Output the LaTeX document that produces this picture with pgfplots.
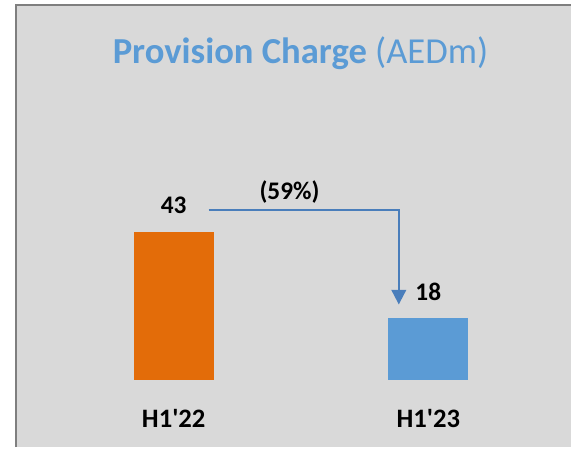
\documentclass[border=0pt]{standalone}
\usepackage{fontspec}
\setmainfont{Carlito}
\usepackage{pgfplots}
\pgfplotsset{compat=1.18}
\usetikzlibrary{arrows.meta}
\definecolor{bgfill}{HTML}{D9D9D9}
\definecolor{frame}{HTML}{7F7F7F}
\definecolor{barorange}{HTML}{E36C09}
\definecolor{barblue}{HTML}{5B9BD5}
\definecolor{arrowblue}{HTML}{4A7EBB}
\begin{document}
\begin{tikzpicture}
\path (0pt,0pt) rectangle (429pt,336pt);
\fill[bgfill] (12pt,0pt) rectangle (429pt,332.25pt);
\draw[frame, line width=1.5pt] (12.375pt,0pt) -- (12.375pt,331.875pt) -- (429pt,331.875pt);
\node[text=barblue, font=\fontsize{27.5}{32}\selectfont] at (225.75pt,296pt) {\textbf{Provision Charge} (AEDm)};
\begin{axis}[
  at={(34.875pt,50.25pt)}, anchor=south west,
  scale only axis, width=382.5pt, height=259.875pt,
  xmin=-0.5, xmax=1.5, ymin=0, ymax=100,
  axis line style={draw=none}, tick style={draw=none},
  ymajorticks=false,
  /pgf/number format/assume math mode=true,
  xtick={0,1}, xticklabels={H1\textquotesingle22,H1\textquotesingle23},
  xticklabel style={anchor=center, yshift=-24.5pt, font=\fontsize{20}{24}\selectfont\bfseries},
  ybar, bar width=60pt, bar shift=0pt,
  nodes near coords,
  every node near coord/.append style={anchor=south, inner sep=0pt, yshift=13pt, font=\fontsize{19}{23}\selectfont\bfseries, text=black},
  clip=false,
]
\addplot[fill=barorange, draw=none] coordinates {(0,43)};
\addplot[fill=barblue, draw=none] coordinates {(1,18)};
\end{axis}
\draw[arrowblue, line width=1.5pt, -{Triangle[width=11pt,length=11pt]}] (156.75pt,178.5pt) -- (299.625pt,178.5pt) -- (299.625pt,107.25pt);
\node[font=\fontsize{19}{22}\selectfont\bfseries] at (217.5pt,192pt) {(59\%)};
\end{tikzpicture}
\end{document}
